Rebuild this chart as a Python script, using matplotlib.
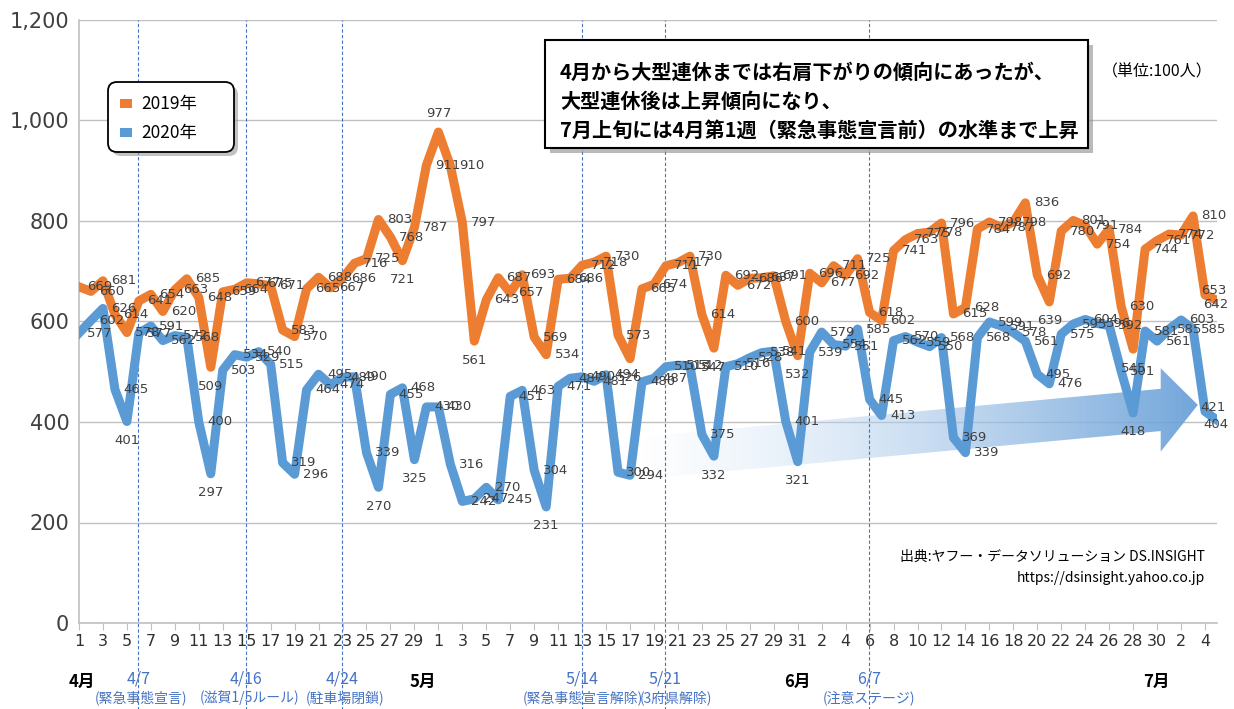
import matplotlib
matplotlib.use("Agg")
import matplotlib.pyplot as plt
import numpy as np
import pandas as pd
from matplotlib.patches import Rectangle, FancyBboxPatch, Polygon
from matplotlib.transforms import IdentityTransform

plt.rcParams["font.family"] = ["DejaVu Sans", "Noto Sans CJK JP"]
JP = ["Noto Sans CJK JP", "DejaVu Sans"]

# ---- data (単位:100人) ------------------------------------------------------
dates = pd.date_range("2020-04-01", "2020-07-05", freq="D")

v2019 = [669, 660, 681, 614, 578, 641, 654, 620, 663, 685, 648, 509, 659, 664, 677, 675,
         671, 583, 570, 665, 688, 667, 686, 716, 725, 803, 768, 721, 787, 911, 977, 910,
         797, 561, 643, 687, 657, 693, 569, 534, 684, 686, 712, 718, 730, 573, 526, 665,
         674, 711, 717, 730, 614, 547, 692, 672, 686, 687, 691, 600, 532, 696, 677, 711,
         692, 725, 618, 602, 741, 763, 775, 778, 796, 615, 628, 784, 798, 787, 798, 836,
         692, 639, 780, 801, 791, 754, 784, 630, 545, 744, 761, 774, 772, 810, 653, 642]

v2020 = [577, 602, 626, 465, 401, 577, 591, 562, 572, 568, 400, 297, 503, 534, 529, 540,
         515, 319, 296, 464, 495, 474, 489, 490, 339, 270, 455, 468, 325, 430, 430, 316,
         242, 247, 270, 245, 451, 463, 304, 231, 471, 487, 490, 481, 494, 300, 294, 480,
         487, 510, 513, 512, 375, 332, 510, 516, 528, 538, 541, 401, 321, 539, 579, 554,
         551, 585, 445, 413, 562, 570, 559, 550, 568, 369, 339, 568, 599, 591, 578, 561,
         495, 476, 575, 595, 604, 596, 592, 501, 418, 581, 561, 585, 603, 585, 421, 404]

series_names = ["2019年", "2020年"]
event_dates = ["2020-04-07", "2020-04-16", "2020-04-24", "2020-05-14", "2020-05-21", "2020-06-07"]
event_dates_txt = ["4/7", "4/16", "4/24", "5/14", "5/21", "6/7"]
event_notes = ["(緊急事態宣言)", "(滋賀1/5ルール)", "(駐車場閉鎖)",
               "(緊急事態宣言解除)", "(3府県解除)", "(注意ステージ)"]
month_names = ["4月", "5月", "6月", "7月"]

C19 = "#ED7D31"
C20 = "#5B9BD5"
EVC = "#4472C4"
GRID = "#c0c0c0"

W, H = 1234, 709
fig = plt.figure(figsize=(W / 100, H / 100), dpi=100)
fig.patch.set_facecolor("white")
ax = fig.add_axes([79 / W, 1 - 623 / H, (1217 - 79) / W, (623 - 20) / H])

x = np.arange(len(dates))
ax.set_xlim(0, len(dates) - 1)
ax.set_ylim(0, 1200)

# grid / axes
ax.set_yticks(range(0, 1201, 200))
ax.set_yticklabels([f"{v:,}" for v in range(0, 1201, 200)], fontsize=15, color="#404040")
ax.yaxis.grid(True, color=GRID, lw=1)
ax.set_axisbelow(True)
for s in ["top", "right"]:
    ax.spines[s].set_visible(False)
for s in ["left", "bottom"]:
    ax.spines[s].set_color(GRID)
    ax.spines[s].set_linewidth(1.2)
ax.tick_params(axis="y", length=0, pad=7)
ax.set_xticks(x[::2])
ax.set_xticklabels([str(d.day) for d in dates[::2]], fontsize=11.5, color="#303030")
ax.tick_params(axis="x", length=5, color=GRID, pad=3)

# gradient arrow (trend)
tail = (46.9, 328)
neck = (90.3, 424)
tip = (93.4, 434)
hb, hh = 42, 83
arrow_pts = [(tail[0], tail[1] + hb), (neck[0], neck[1] + hb), (neck[0], neck[1] + hh), tip,
             (neck[0], neck[1] - hh), (neck[0], neck[1] - hb), (tail[0], tail[1] - hb)]
poly = Polygon(arrow_pts, closed=True, facecolor="none", edgecolor="none")
ax.add_patch(poly)
t = np.linspace(0, 1, 300)
grad = np.zeros((2, 300, 4))
c0 = np.array([0.88, 0.93, 0.98])
c1 = np.array([0.42, 0.63, 0.85])
grad[..., :3] = c0 + (c1 - c0) * t[:, None]
grad[..., 3] = 0.95 * t ** 0.7
im = ax.imshow(grad, extent=[tail[0], tip[0], 200, 560], aspect="auto", origin="lower",
               zorder=1, interpolation="bilinear")
im.set_clip_path(poly)
ax.set_xlim(0, len(dates) - 1)
ax.set_ylim(0, 1200)

# event lines and notes under the axis
tr = ax.get_xaxis_transform()
note_shift = [0.2, 0.3, 0.3, 0.1, 0.9, 0.0]
for d, dt, note, dx in zip(event_dates, event_dates_txt, event_notes, note_shift):
    xe = dates.get_loc(pd.Timestamp(d)) - 1.05
    ax.plot([xe, xe], [-0.145, 1.0], transform=tr, color=EVC, lw=0.8, ls=(0, (3, 2)),
            clip_on=False, zorder=1.5)
    ax.text(xe, -0.093, dt, transform=tr, ha="center", va="center", fontsize=11.5,
            color=EVC, family=JP)
    ax.text(xe + dx, -0.124, note, transform=tr, ha="center", va="center", fontsize=10,
            color=EVC, family=JP)

month_pos = [0.2, 28.7, 60.0, 89.9]
for m, xm in zip(month_names, month_pos):
    ax.text(xm, -0.097, m, transform=tr, ha="center", va="center", fontsize=12,
            fontweight="bold", color="black", family=JP)

# lines
ax.plot(x, v2019, color=C19, lw=6.5, solid_joinstyle="round", zorder=3)
ax.plot(x, v2020, color=C20, lw=6.5, solid_joinstyle="round", zorder=3)


# data labels
def label_series(vals):
    n = len(vals)
    for i, v in enumerate(vals):
        prev = vals[i - 1] if i > 0 else v
        nxt = vals[i + 1] if i < n - 1 else v
        if i == n - 1:
            off, ha, va = (-10, -3), "left", "center"
        elif i == n - 2:
            off, ha, va = (-3, 3), "left", "center"
        elif v - max(prev, nxt) > 40:
            off, ha, va = (0, 9), "center", "bottom"
        elif min(prev, nxt) - v > 40:
            off, ha, va = (0, -9), "center", "top"
        else:
            off, ha, va = (6, 0), "left", "center"
        ax.annotate(str(v), (i, v), xytext=off, textcoords="offset points", ha=ha, va=va,
                    fontsize=9.5, color="#404040", zorder=4, annotation_clip=False)


label_series(v2019)
label_series(v2020)

# legend box
idt = IdentityTransform()
fig.add_artist(FancyBboxPatch((112, H - 156), 126, 70, boxstyle="round,pad=0,rounding_size=9",
                              transform=idt, facecolor="#9a9a9a", edgecolor="none", alpha=0.6))
fig.add_artist(FancyBboxPatch((108, H - 152), 126, 70, boxstyle="round,pad=0,rounding_size=9",
                              transform=idt, facecolor="white", edgecolor="black", lw=1.3))
for k, (name, col) in enumerate(zip(series_names, [C19, C20])):
    yy = H - 104 - 29 * k
    fig.add_artist(Rectangle((120, yy - 4), 12, 9, transform=idt, facecolor=col, edgecolor="none"))
    fig.text(141 / W, yy / H, name, ha="left", va="center", fontsize=12.5, family=JP)

# comment box
fig.add_artist(Rectangle((550, H - 153), 543, 108, transform=idt, facecolor="#8c8c8c",
                         edgecolor="none", alpha=0.6))
fig.add_artist(Rectangle((545, H - 148), 543, 108, transform=idt, facecolor="white",
                         edgecolor="black", lw=1.5))
comment = ["4月から大型連休までは右肩下がりの傾向にあったが、",
           "大型連休後は上昇傾向になり、",
           "7月上旬には4月第1週（緊急事態宣言前）の水準まで上昇"]
for k, line in enumerate(comment):
    fig.text(560 / W, 1 - (72 + 29 * k) / H, line, ha="left", va="center", fontsize=14.5,
             fontweight="bold", family=JP)

fig.text(1157 / W, 1 - 72 / H, "（単位:100人）", ha="center", va="center", fontsize=11.5, family=JP)
fig.text(1205 / W, 1 - 557 / H, "出典:ヤフー・データソリューション DS.INSIGHT", ha="right",
         va="center", fontsize=10, family=JP)
fig.text(1205 / W, 1 - 578 / H, "https://dsinsight.yahoo.co.jp", ha="right", va="center",
         fontsize=10, family=JP)

fig.savefig("out.png", dpi=100)
